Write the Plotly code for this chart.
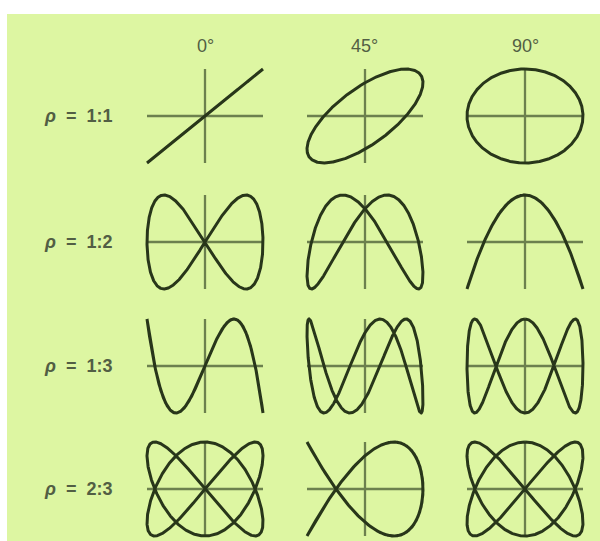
import numpy as np
import plotly.graph_objects as go

# Frequency ratios (x : y) for each row, and phase shifts for each column
ratio_labels = ["1:1", "1:2", "1:3", "2:3"]
x_freq = [1, 1, 1, 2]
y_freq = [1, 2, 3, 3]
phase_labels = ["0°", "45°", "90°"]
phase_deg = [0, 45, 90]

# Page geometry (pixels)
W, H = 600, 541
row_center_px = [116, 242, 366, 489]
col_center_px = [205, 365, 525]
half_w_px, half_h_px = 58, 47
pad = 1.07

BG = "rgb(221,246,162)"
CURVE = "rgb(40,54,26)"
AXIS = "rgb(108,128,78)"
TEXT = "rgb(82,94,68)"

fig = go.Figure()
t = np.linspace(0, 2 * np.pi, 1200)

layout_axes = {}
for r in range(len(x_freq)):
    for c in range(len(phase_deg)):
        i = r * len(phase_deg) + c + 1
        xa = "x" if i == 1 else f"x{i}"
        ya = "y" if i == 1 else f"y{i}"
        cx, cy = col_center_px[c], row_center_px[r]
        hw, hh = half_w_px * pad, half_h_px * pad
        layout_axes["xaxis" if i == 1 else f"xaxis{i}"] = dict(
            domain=[(cx - hw) / W, (cx + hw) / W], range=[-pad, pad],
            visible=False, anchor=ya, fixedrange=True)
        layout_axes["yaxis" if i == 1 else f"yaxis{i}"] = dict(
            domain=[1 - (cy + hh) / H, 1 - (cy - hh) / H], range=[-pad, pad],
            visible=False, anchor=xa, fixedrange=True)

        # reference cross
        fig.add_trace(go.Scatter(x=[-1, 1, None, 0, 0], y=[0, 0, None, -1, 1],
                                 mode="lines", line=dict(color=AXIS, width=2.3),
                                 xaxis=xa, yaxis=ya, hoverinfo="skip"))
        # Lissajous curve
        phi = np.deg2rad(phase_deg[c])
        xs = np.sin(x_freq[r] * t)
        ys = np.sin(y_freq[r] * t + phi)
        fig.add_trace(go.Scatter(x=xs, y=ys, mode="lines",
                                 line=dict(color=CURVE, width=3),
                                 xaxis=xa, yaxis=ya, hoverinfo="skip"))

annotations = []
for c, lab in enumerate(phase_labels):
    annotations.append(dict(text=lab, x=col_center_px[c] / W, y=1 - 46 / H,
                            xref="paper", yref="paper", showarrow=False,
                            xanchor="center", yanchor="middle",
                            font=dict(family="Liberation Sans", size=18, color=TEXT)))
for r, lab in enumerate(ratio_labels):
    annotations.append(dict(text="<i>ρ</i>\u00a0\u00a0=\u00a0\u00a0" + lab,
                            x=42 / W, y=1 - row_center_px[r] / H,
                            xref="paper", yref="paper", showarrow=False,
                            xanchor="left", yanchor="middle",
                            font=dict(family="Liberation Sans", size=18, color=TEXT,
                                      weight="bold")))

fig.update_layout(
    width=W, height=H, margin=dict(l=0, r=0, t=0, b=0),
    paper_bgcolor="white", plot_bgcolor="rgba(0,0,0,0)",
    showlegend=False, annotations=annotations,
    shapes=[dict(type="rect", xref="paper", yref="paper", layer="below",
                 x0=7 / W, x1=1, y0=0, y1=1 - 14 / H,
                 fillcolor=BG, line=dict(width=0))],
    **layout_axes,
)

fig.write_html("out.html")
